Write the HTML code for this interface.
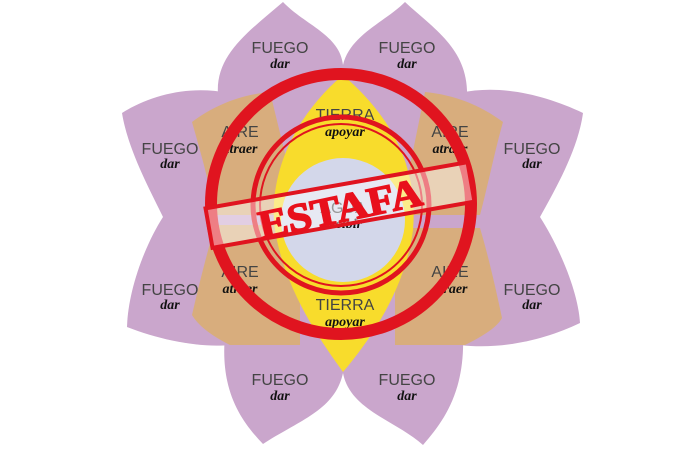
<!DOCTYPE html>
<html><head><meta charset="utf-8"><style>html,body{margin:0;padding:0;background:#fff}svg{display:block}</style></head>
<body>
<svg width="700" height="449" viewBox="0 0 700 449" xmlns="http://www.w3.org/2000/svg">
<g fill="#caa6cc">
<path d="M218,95 C215,55 248,32 283,2 C305,25 340,35 343,65 L343,130 L225,130 Z"/>
<path d="M343,65 C350,35 385,22 405,2 C435,30 470,50 467,100 L460,130 L343,130 Z"/>
<path d="M228,93 C190,85 150,95 122,113 C128,150 150,190 163,217 L260,217 L260,100 Z"/>
<path d="M163,217 C145,245 128,290 127,327 C160,340 200,348 230,345 L260,330 L260,217 Z"/>
<path d="M460,93 C500,84 545,95 583,113 C578,150 555,190 540,217 L440,217 L440,100 Z"/>
<path d="M540,217 C558,245 578,290 580,323 C545,340 500,350 460,345 L440,330 L440,217 Z"/>
<path d="M225,335 C220,390 240,420 263,444 C300,420 335,410 343,373 L343,320 L230,320 Z"/>
<path d="M343,373 C350,410 395,420 423,445 C445,420 465,390 463,335 L460,320 L343,320 Z"/>
<polygon points="240,100 460,100 490,130 490,310 460,340 240,340 210,310 210,130"/>
</g>
<g fill="#d8ad7d">
<path d="M192,122 C215,105 240,95 270,92 L300,215 L215,215 C210,185 200,150 192,122 Z"/>
<path d="M215,225 L300,225 L300,345 L230,345 C210,335 198,325 192,315 C200,280 208,250 215,225 Z"/>
<path d="M503,122 C480,105 455,95 425,92 L400,215 L480,215 C488,185 495,150 503,122 Z"/>
<path d="M480,228 L395,228 L395,345 L465,345 C485,335 497,327 502,318 C495,285 488,255 480,228 Z"/>
</g>
<path d="M343,75 C290,120 268,180 275,230 C285,290 320,340 343,372 C370,340 405,290 413,230 C418,170 395,120 343,75 Z" fill="#f8dc2c"/>
<circle cx="343" cy="220" r="62" fill="#d3d7ea"/>
<g font-family="Liberation Sans, sans-serif" font-size="16" fill="#444" text-anchor="middle">
<text x="280" y="53">FUEGO</text><text x="407" y="53">FUEGO</text>
<text x="170" y="154">FUEGO</text><text x="532" y="154">FUEGO</text>
<text x="170" y="295">FUEGO</text><text x="532" y="295">FUEGO</text>
<text x="280" y="385">FUEGO</text><text x="407" y="385">FUEGO</text>
<text x="240" y="137">AIRE</text><text x="450" y="137">AIRE</text>
<text x="240" y="277">AIRE</text><text x="450" y="277">AIRE</text>
<text x="345" y="120">TIERRA</text><text x="345" y="310">TIERRA</text>
<text x="343" y="213">AGUA</text>
</g>
<g font-family="Liberation Serif, serif" font-size="14" fill="#111" text-anchor="middle" font-weight="bold" font-style="italic">
<text x="280" y="68">dar</text><text x="407" y="68">dar</text>
<text x="170" y="168">dar</text><text x="532" y="168">dar</text>
<text x="170" y="309">dar</text><text x="532" y="309">dar</text>
<text x="280" y="400">dar</text><text x="407" y="400">dar</text>
<text x="240" y="153">atraer</text><text x="450" y="153">atraer</text>
<text x="240" y="293">atraer</text><text x="450" y="293">atraer</text>
<text x="345" y="136">apoyar</text><text x="345" y="326">apoyar</text>
<text x="343" y="228">recibir</text>
</g>
<g fill="none" stroke="#e0141f">
<circle cx="341" cy="204" r="130" stroke-width="12"/>
<circle cx="341" cy="205" r="88" stroke-width="5"/>
<circle cx="341" cy="205" r="81" stroke-width="2"/>
</g>
<g transform="rotate(-10 340 205)">
<rect x="207" y="185" width="266" height="40" fill="#fff" fill-opacity="0.45" stroke="#e0141f" stroke-width="4"/>
</g>
<text x="340" y="222" transform="rotate(-12 340 208)" font-family="Liberation Serif, serif" font-weight="bold" font-size="40" fill="#e8101c" stroke="#e8101c" stroke-width="1.5" text-anchor="middle" textLength="166" lengthAdjust="spacingAndGlyphs">ESTAFA</text>
</svg>
</body></html>
